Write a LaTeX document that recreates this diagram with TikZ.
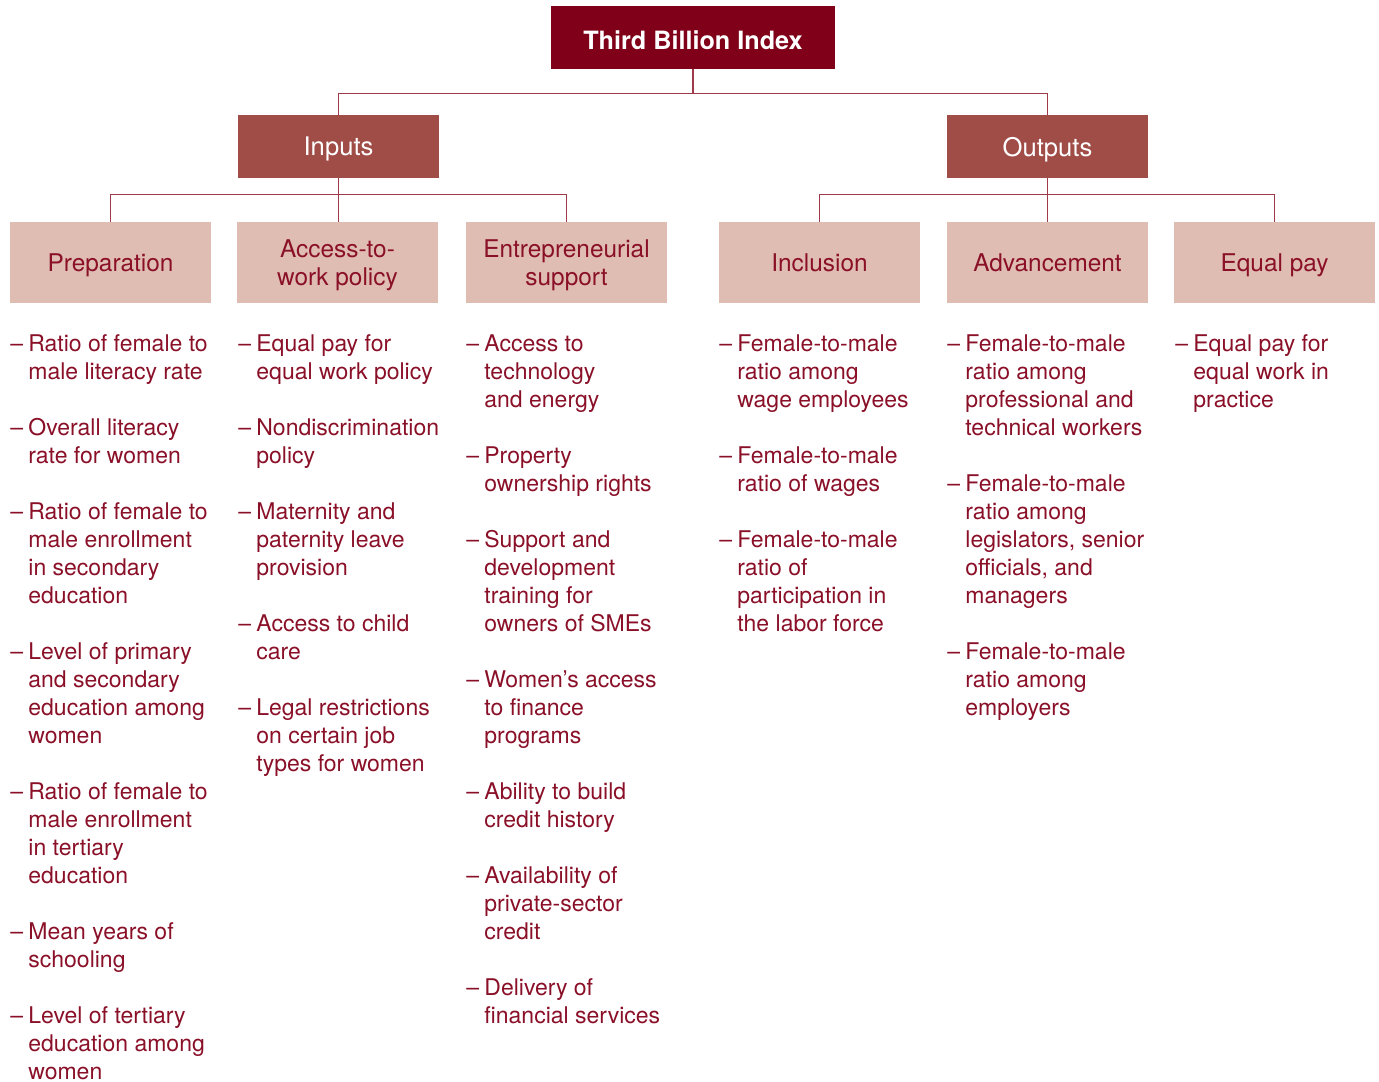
\documentclass[tikz,border=0pt]{standalone}
\usepackage{fontspec}
\setmainfont{TeX Gyre Heros}
\definecolor{darkred}{HTML}{7F0018}
\definecolor{midred}{HTML}{A04C47}
\definecolor{pinkred}{HTML}{E0BDB3}
\definecolor{textred}{HTML}{8A1028}
\definecolor{linered}{HTML}{9E3A4A}
\newcommand{\dashit}{\llap{\makebox[9pt][l]{–}}}
\tikzset{topbox/.style={fill=darkred,text=white,inner sep=0pt,minimum width=142pt,minimum height=31.5pt,text height=12pt,text depth=0pt,font=\fontsize{12.6}{14}\selectfont\bfseries}}
\tikzset{groupbox/.style={fill=midred,text=white,inner sep=0pt,minimum width=100.5pt,minimum height=31.5pt,text depth=0pt,font=\fontsize{12.8}{14}\selectfont}}
\tikzset{catbox/.style={fill=pinkred,text=textred,inner sep=0pt,minimum width=100.5pt,minimum height=40.5pt,text depth=0pt,align=center,font=\fontsize{12.2}{14}\selectfont}}
\tikzset{items/.style={anchor=north west,inner sep=0pt,align=left,text=textred,font=\fontsize{11.5}{14}\selectfont}}
\tikzset{conn/.style={draw=linered,line width=0.75pt}}

\begin{document}
\begin{tikzpicture}[x=0.5pt,y=-0.5pt]
\useasboundingbox (0,0) rectangle (1379,1081);
% top of the tree
\node[topbox] (tbi) at (693,37.5) {Third Billion Index};
\node[groupbox] (inputs) at (338.5,146.5) {Inputs};
\node[groupbox] (outputs) at (1047.5,146.5) {Outputs};
% categories
\node[catbox] (prep) at (110.5,262.5) {Preparation};
\node[catbox] (access) at (337.5,262.5) {Access-to-\\work policy};
\node[catbox] (entre) at (566.5,262.5) {Entrepreneurial\\support};
\node[catbox] (incl) at (819.5,262.5) {Inclusion};
\node[catbox] (adv) at (1047.5,262.5) {Advancement};
\node[catbox] (eqpay) at (1274.5,262.5) {Equal pay};
% connectors
\draw[conn] (tbi.south) -- ++(0,24) -| (inputs.north);
\draw[conn] (tbi.south) -- ++(0,24) -| (outputs.north);
\draw[conn] (inputs.south) -- ++(0,16) -| (prep.north);
\draw[conn] (inputs.south) -- ++(0,16) -| (entre.north);
\draw[conn] (inputs.south) -- (inputs.south |- access.north);
\draw[conn] (outputs.south) -- ++(0,16) -| (incl.north);
\draw[conn] (outputs.south) -- ++(0,16) -| (eqpay.north);
\draw[conn] (outputs.south) -- (adv.north);
% indicator lists
\node[items] (prepitems) at (28,331.8) {\strut\dashit Ratio of female to\\male literacy rate\\[14pt]
\dashit Overall literacy\\rate for women\\[14pt]
\dashit Ratio of female to\\male enrollment\\in secondary\\education\\[14pt]
\dashit Level of primary\\and secondary\\education among\\women\\[14pt]
\dashit Ratio of female to\\male enrollment\\in tertiary\\education\\[14pt]
\dashit Mean years of\\schooling\\[14pt]
\dashit Level of tertiary\\education among\\women};
\node[items] (accessitems) at (256,331.8) {\strut\dashit Equal pay for\\equal work policy\\[14pt]
\dashit Nondiscrimination\\policy\\[14pt]
\dashit Maternity and\\paternity leave\\provision\\[14pt]
\dashit Access to child\\care\\[14pt]
\dashit Legal restrictions\\on certain job\\types for women};
\node[items] (entreitems) at (484,331.8) {\strut\dashit Access to\\technology\\and energy\\[14pt]
\dashit Property\\ownership rights\\[14pt]
\dashit Support and\\development\\training for\\owners of SMEs\\[14pt]
\dashit Women’s access\\to finance\\programs\\[14pt]
\dashit Ability to build\\credit history\\[14pt]
\dashit Availability of\\private-sector\\credit\\[14pt]
\dashit Delivery of\\financial services};
\node[items] (inclitems) at (737,331.8) {\strut\dashit Female-to-male\\ratio among\\wage employees\\[14pt]
\dashit Female-to-male\\ratio of wages\\[14pt]
\dashit Female-to-male\\ratio of\\participation in\\the labor force};
\node[items] (advitems) at (965,331.8) {\strut\dashit Female-to-male\\ratio among\\professional and\\technical workers\\[14pt]
\dashit Female-to-male\\ratio among\\legislators, senior\\officials, and\\managers\\[14pt]
\dashit Female-to-male\\ratio among\\employers};
\node[items] (eqpayitems) at (1193,331.8) {\strut\dashit Equal pay for\\equal work in\\practice};
\end{tikzpicture}
\end{document}
